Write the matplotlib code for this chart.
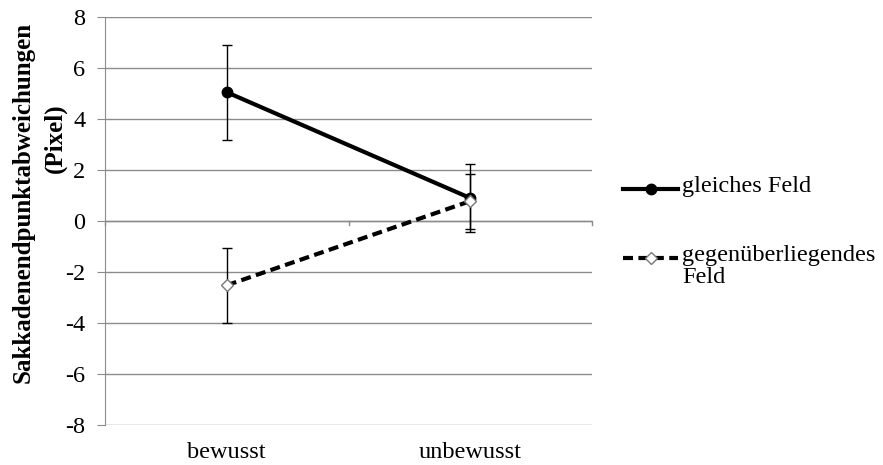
import matplotlib

matplotlib.use("Agg")
import matplotlib.pyplot as plt
from matplotlib.lines import Line2D

# Values
conditions = ["bewusst", "unbewusst"]
same_field = [5.05, 0.90]
same_field_err = [1.87, 1.32]
opposite_field = [-2.52, 0.78]
opposite_field_err = [1.47, 1.08]
series_labels = ["gleiches Feld", "gegenüberliegendes\nFeld"]
y_ticks = [-8, -6, -4, -2, 0, 2, 4, 6, 8]

plt.rcParams["font.family"] = ["Liberation Serif", "DejaVu Serif"]
FS = 17.5
GRID = "#8c8c8c"
DASH = (0, (2.4, 1.3))
W, H = 883, 465

fig = plt.figure(figsize=(W / 100, H / 100), dpi=100)
ax = fig.add_axes([105 / W, 1 - 425 / H, (592 - 105) / W, (425 - 17) / H])

x = [0.5, 1.5]
solid_style = dict(color="black", lw=3, marker="o", ms=7.5, mfc="black", mec="black")
dashed_style = dict(color="black", lw=3, ls=DASH, marker="D", ms=6.5,
                    mfc="white", mec="#777777", mew=1)
bar_style = dict(ecolor="black", elinewidth=1, capsize=3.5, capthick=1, zorder=3)
ax.errorbar(x, same_field, yerr=same_field_err, **solid_style, **bar_style)
ax.errorbar(x, opposite_field, yerr=opposite_field_err, **dashed_style, **bar_style)

ax.set_xlim(0, 2)
ax.set_ylim(-8, 8)
ax.set_yticks(y_ticks)
ax.set_yticklabels([str(t) for t in y_ticks], fontsize=FS)
ax.yaxis.grid(True, color=GRID, lw=1)
ax.set_axisbelow(True)
ax.tick_params(axis="y", length=6, color=GRID, direction="out", pad=8)
ax.set_xticks(x)
ax.set_xticklabels(conditions, fontsize=FS)
ax.tick_params(axis="x", length=0, pad=12)

for side in ["top", "right", "bottom"]:
    ax.spines[side].set_visible(False)
ax.spines["left"].set_color(GRID)

# category axis crosses at zero, with tick marks between categories
ax.axhline(0, color=GRID, lw=1, zorder=1)
for xb in [0, 1, 2]:
    ax.plot([xb, xb], [0, -0.17], color=GRID, lw=1, clip_on=False, zorder=1)

# y axis title, two lines placed like the original
fig.text(23 / W, 1 - 202 / H, "Sakkadenendpunktabweichungen", rotation=90,
         ha="center", va="center", fontsize=18, fontweight="bold")
fig.text(55 / W, 1 - 138 / H, "(Pixel)", rotation=90,
         ha="center", va="center", fontsize=18, fontweight="bold")

# legend drawn by hand: handle aligned with the first text line
for style, y_px, label in [(solid_style, 189, series_labels[0]),
                           (dashed_style, 258, series_labels[1])]:
    yf = 1 - y_px / H
    fig.add_artist(Line2D([623 / W, 678 / W], [yf, yf], **{**style, "marker": None}))
    fig.add_artist(Line2D([651 / W], [yf], **{**style, "ls": "none"}))
    fig.text(682 / W, 1 - (y_px - 13) / H, label, ha="left", va="top",
             fontsize=FS, linespacing=1.05)

fig.savefig("out.png", dpi=100)
